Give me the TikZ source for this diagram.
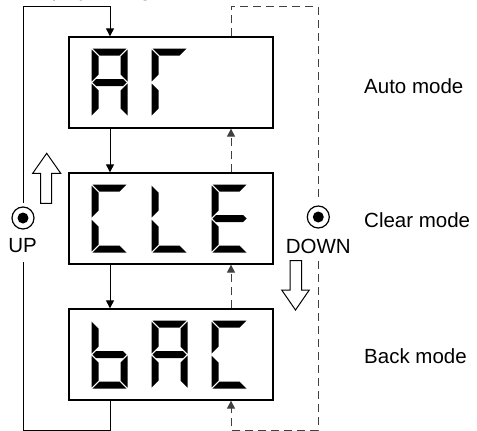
\documentclass[tikz,border=0pt]{standalone}
\usepackage{fontspec}
\setmainfont{Liberation Sans}
\usetikzlibrary{arrows.meta,calc}
\tikzset{
  modebox/.style={draw, line width=1.3pt, minimum width=204pt, minimum height=91pt, inner sep=0pt},
  modelbl/.style={anchor=base west, font=\fontsize{20.5pt}{24pt}\selectfont, inner sep=0pt},
  btnlbl/.style={anchor=base, font=\fontsize{20.5pt}{24pt}\selectfont, inner sep=0pt},
  btn/.style={circle, draw, line width=1.2pt, minimum size=22pt, inner sep=0pt},
  solidcon/.style={line width=1pt, draw=black},
  dashcon/.style={line width=1pt, draw=black!75, dash pattern=on 8pt off 5pt},
  tip/.style={-{Triangle[width=8pt,length=8pt]}},
  hollow/.style={line width=1pt, draw=black, fill=white, line join=miter},
  pics/sega/.style={code={\fill (1,0) -- (35,0) -- (28,7) -- (8,7) -- cycle;}},
  pics/segb/.style={code={\fill (36,1) -- (29,8) -- (29,26) -- (36,33) -- cycle;}},
  pics/segc/.style={code={\fill (36,35) -- (29,42) -- (29,60) -- (36,67) -- cycle;}},
  pics/segd/.style={code={\fill (1,68) -- (35,68) -- (28,61) -- (8,61) -- cycle;}},
  pics/sege/.style={code={\fill (0,35) -- (7,42) -- (7,60) -- (0,67) -- cycle;}},
  pics/segf/.style={code={\fill (0,1) -- (7,8) -- (7,26) -- (0,33) -- cycle;}},
  pics/segg/.style={code={\fill (1,34) -- (4.5,30.5) -- (31.5,30.5) -- (35,34) -- (31.5,37.5) -- (4.5,37.5) -- cycle;}},
}
\newcommand\sevenseg[3]{\foreach \s in {#3}{\edef\tmpseg{\noexpand\pic at (#1,#2) {seg\s};}\tmpseg}}
\begin{document}
\begin{tikzpicture}[x=1pt,y=-1pt]
\useasboundingbox (0,0) rectangle (477,431);
\clip (0,0) rectangle (477,431);
\fill[white] (0,0) rectangle (477,431);

% cut-off caption line at the very top
\node[anchor=base west, font=\fontsize{20.5pt}{24pt}\selectfont, inner sep=0pt] (caption) at (22,-4) {Display changes as follows.};

% boxes
\node[modebox] (box1) at (171,82.5) {};
\node[modebox] (box2) at (171,218.5) {};
\node[modebox] (box3) at (171,354.5) {};

% digits
\sevenseg{91.5}{48.5}{a,b,c,e,f,g}
\sevenseg{151.5}{48.5}{a,e,f}
\sevenseg{91.5}{184.5}{a,d,e,f}
\sevenseg{151.5}{184.5}{d,e,f}
\sevenseg{211.5}{184.5}{a,d,e,f,g}
\sevenseg{91.5}{320.5}{c,d,e,f,g}
\sevenseg{151.5}{320.5}{a,b,c,e,f,g}
\sevenseg{211.5}{320.5}{a,d,e,f}

% labels
\node[modelbl] (auto) at (364,93) {Auto mode};
\node[modelbl] (clear) at (364,227) {Clear mode};
\node[modelbl] (back) at (364,363) {Back mode};

% buttons
\node[btn] (upbtn) at (23,218) {};
\fill (upbtn.center) circle (5.5);
\node[btnlbl] (uplbl) at (22.5,252) {UP};
\node[btn] (dnbtn) at (318.3,217) {};
\fill (dnbtn.center) circle (5.5);
\node[btnlbl] (dnlbl) at (318.3,253) {DOWN};

% helper coordinates
\coordinate (L) at (110,0);
\coordinate (R) at (231,0);
\coordinate (ltop) at (23.3,6.7);
\coordinate (lbot) at (23.3,430);
\coordinate (lgapt) at (23.3,203);
\coordinate (lgapb) at (23.3,262);
\coordinate (rtop) at (318.3,6.7);
\coordinate (rbot) at (318.3,430);
\coordinate (rgapt) at (318.3,200);
\coordinate (rgapb) at (318.3,261);

% solid (UP) connectors
\draw[solidcon,tip] (box1.south -| L) -- (box2.north -| L);
\draw[solidcon,tip] (box2.south -| L) -- (box3.north -| L);
\draw[solidcon] (box3.south -| L) -- (L |- lbot) -- (lbot) -- (lgapb);
\draw[solidcon,tip] (lgapt) -- (ltop) -- (L |- ltop) -- (box1.north -| L);

% dashed (DOWN) connectors
\draw[dashcon,tip] (box2.north -| R) -- (box1.south -| R);
\draw[dashcon,tip] (box3.north -| R) -- (box2.south -| R);
\draw[dashcon] (box1.north -| R) -- (R |- rtop) -- (rtop) -- (rgapt);
\draw[dashcon,tip] (rgapb) -- (rbot) -- (R |- rbot) -- (box3.south -| R);

% hollow direction arrows
\draw[hollow] (46.7,153.3) -- (60.7,173.3) -- (51.7,173.3) -- (51.7,203.3) -- (40.7,203.3) -- (40.7,173.3) -- (32.7,173.3) -- cycle;
\draw[hollow] (290,260.7) -- (301.7,260.7) -- (301.7,290) -- (309.3,290) -- (295.5,310) -- (281.7,290) -- (290,290) -- cycle;
\end{tikzpicture}
\end{document}
